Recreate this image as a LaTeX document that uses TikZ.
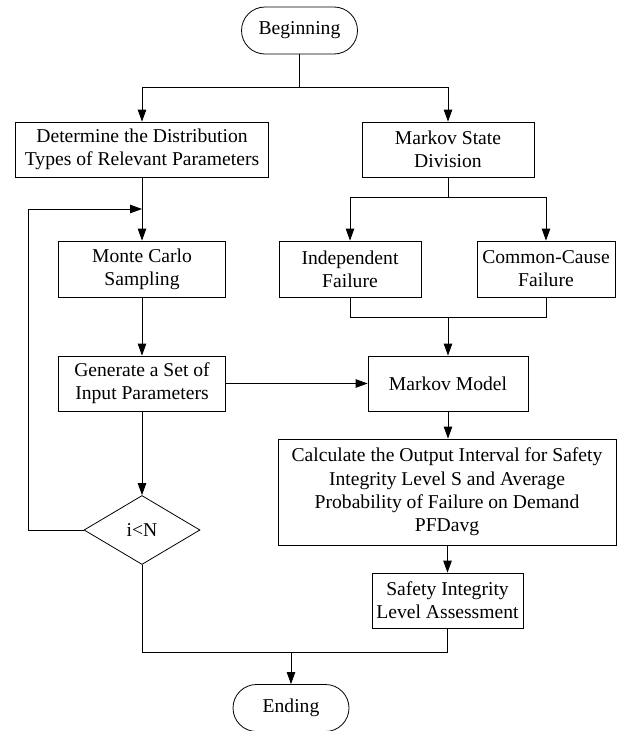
\documentclass[tikz,border=0pt]{standalone}
\usepackage{fontspec}
\setmainfont{Liberation Serif}
\usetikzlibrary{arrows.meta,shapes.geometric,shapes.misc}
\begin{document}
\begin{tikzpicture}[x=1pt,y=-1pt,
  every node/.style={font=\fontsize{19.6}{23.2}\selectfont, align=center, inner sep=0pt},
  box/.style={draw, line width=0.8pt, rectangle},
  term/.style={draw, line width=0.8pt, rounded rectangle, minimum width=116pt, minimum height=47pt},
  dec/.style={draw, line width=0.8pt, diamond, minimum width=116pt, minimum height=69pt},
  link/.style={line width=0.8pt},
  arr/.style={line width=0.8pt, -{Triangle[length=12pt,width=8.5pt]}}]
\useasboundingbox (0,0) rectangle (621,731);
\fill[white] (0,0) rectangle (621,731);
% nodes
\node[term] (beg) at (299.5,30.5) {Beginning};
\node[box, minimum width=253pt, minimum height=55pt] (det) at (142,149.5) {Determine the Distribution\\Types of Relevant Parameters};
\node[box, minimum width=172pt, minimum height=55pt] (msd) at (448,149.5) {Markov State\\Division};
\node[box, minimum width=167pt, minimum height=56pt] (mc) at (142,269) {Monte Carlo\\Sampling};
\node[box, minimum width=142pt, minimum height=56pt] (ind) at (350,269) {Independent\\Failure};
\node[box, minimum width=138pt, minimum height=56pt] (ccf) at (546,269) {Common-Cause\\Failure};
\node[box, minimum width=167pt, minimum height=55pt] (gen) at (142,383.5) {Generate a Set of\\Input Parameters};
\node[box, minimum width=160pt, minimum height=55pt] (mm) at (448,383.5) {Markov Model};
\node[box, minimum width=338pt, minimum height=106pt] (calc) at (447,492) {Calculate the Output Interval for Safety\\Integrity Level S and Average\\Probability of Failure on Demand\\PFDavg};
\node[dec] (dia) at (142,530) {i<N};
\node[box, minimum width=151pt, minimum height=55pt] (saf) at (447.5,600.5) {Safety Integrity\\Level Assessment};
\node[term] (end) at (291,708) {Ending};
% helper coordinates
\coordinate (s1) at (299.5,87);
\coordinate (s2) at (448,197);
\coordinate (lp) at (28,209);
\coordinate (lpe) at (142,209);
\coordinate (m1) at (448,317);
\coordinate (m2) at (291,652);
% connectors
\draw[link] (beg.south) -- (s1);
\draw[arr] (s1) -| (det.north);
\draw[arr] (s1) -| (msd.north);
\draw[arr] (det.south) -- (mc.north);
\draw[arr] (dia.west) -| (lp) -- (lpe);
\draw[link] (msd.south) -- (s2);
\draw[arr] (s2) -| (ind.north);
\draw[arr] (s2) -| (ccf.north);
\draw[link] (ind.south) |- (m1);
\draw[link] (ccf.south) |- (m1);
\draw[arr] (m1) -- (mm.north);
\draw[arr] (mc.south) -- (gen.north);
\draw[arr] (gen.east) -- (mm.west);
\draw[arr] (gen.south) -- (dia.north);
\draw[arr] (mm.south) -- (mm.south |- calc.north);
\draw[arr] (calc.south -| saf.north) -- (saf.north);
\draw[link] (dia.south) |- (saf.south |- m2) -- (saf.south);
\draw[arr] (m2) -- (end.north);
\end{tikzpicture}
\end{document}
